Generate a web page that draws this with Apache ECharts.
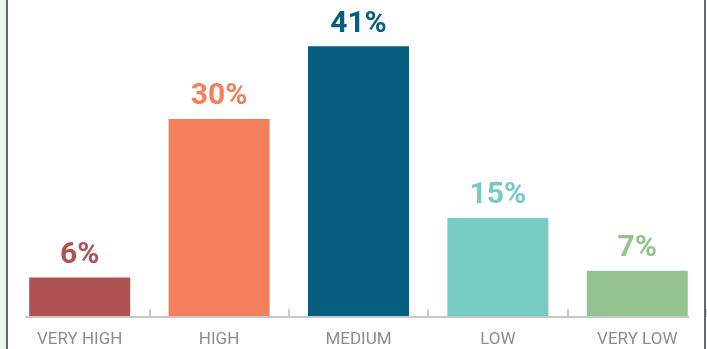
<!DOCTYPE html>
<html>
<head>
<meta charset="utf-8">
<script src="https://cdn.jsdelivr.net/npm/echarts@6/dist/echarts.min.js"></script>
<style>
  html, body { margin: 0; padding: 0; background: #ffffff; }
  #barchart { width: 707px; height: 349px; }
</style>
</head>
<body>
<div id="barchart"></div>
<script>
var categories = ['VERY HIGH', 'HIGH', 'MEDIUM', 'LOW', 'VERY LOW'];
var shares = [6, 30, 41, 15, 7];
var colors = ['#b05252', '#f47f5c', '#055e7e', '#76ccc5', '#93c490'];

var myChart = echarts.init(document.getElementById('barchart'));

var option = {
    backgroundColor: '#ffffff',
    animation: false,
    graphic: [
        { type: 'rect', shape: { x: 0, y: 0, width: 6, height: 349 }, style: { fill: '#e9f4ec' } },
        { type: 'rect', shape: { x: 6, y: 0, width: 2, height: 349 }, style: { fill: '#5d6a72' } },
        { type: 'rect', shape: { x: 704, y: 0, width: 2, height: 349 }, style: { fill: '#5d6a72' } },
        // baseline only runs under the bars in the source
        { type: 'line', shape: { x1: 25, y1: 317, x2: 689, y2: 317 }, style: { stroke: '#c8c8c8', lineWidth: 2 }, z: 5 }
    ],
    grid: {
        left: 10,
        right: -3,
        top: 0,
        bottom: 32
    },
    xAxis: [{
        type: 'category',
        data: categories,
        axisLine: { show: true, lineStyle: { color: 'rgba(0,0,0,0)' } },
        axisTick: {
            show: true,
            inside: true,
            length: 8,
            interval: function (index) { return index !== 0; },
            lineStyle: { color: '#bcbcbc', width: 1.5 }
        },
        axisLabel: {
            color: '#8c8c8c',
            fontFamily: 'Roboto',
            fontSize: 17,
            margin: 14
        }
    }],
    yAxis: [{
        type: 'value',
        min: 0,
        max: 48,
        show: false,
        splitLine: { show: false }
    }],
    series: [{
        type: 'bar',
        barWidth: 101,
        data: shares.map(function (v, i) {
            return {
                value: v,
                itemStyle: { color: colors[i] },
                label: { color: colors[i] }
            };
        }),
        label: {
            show: true,
            position: 'top',
            distance: 7,
            fontFamily: 'Roboto',
            fontWeight: 'bold',
            fontSize: 30,
            formatter: '{c}%'
        }
    }]
};

myChart.setOption(option);
</script>
</body>
</html>
